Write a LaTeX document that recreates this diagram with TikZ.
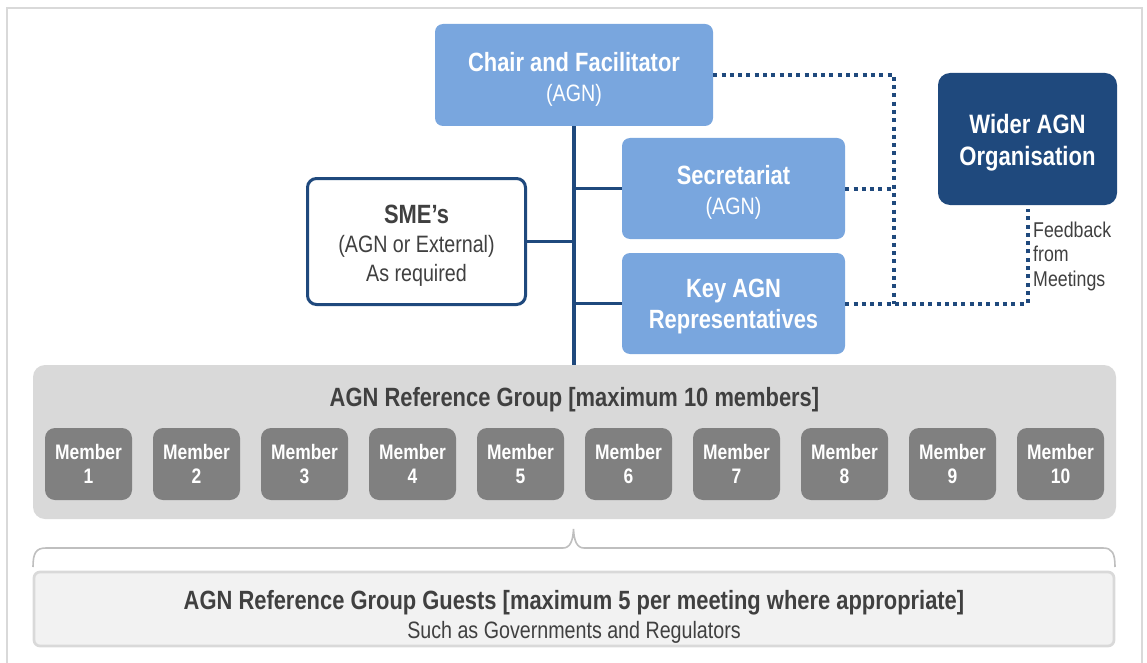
\documentclass[tikz,border=0pt]{standalone}
\usepackage{fontspec}
\setmainfont[FakeStretch=0.83]{Liberation Sans}
\definecolor{lightblue}{RGB}{121,166,222}
\definecolor{darkblue}{RGB}{31,73,125}
\definecolor{groupgray}{RGB}{217,217,217}
\definecolor{membergray}{RGB}{128,128,128}
\definecolor{guestfill}{RGB}{242,242,242}
\definecolor{textdark}{RGB}{64,64,64}
\definecolor{bracegray}{RGB}{191,191,191}
\begin{document}
\begin{tikzpicture}[x=1pt,y=-1pt,
  bluebox/.style={fill=lightblue, draw=none, rounded corners=8pt, inner sep=0pt},
  bluetext/.style={text=white, align=center, inner sep=0pt, font=\fontsize{26.4}{30}\selectfont},
  widerbox/.style={fill=darkblue, draw=none, rounded corners=12pt, inner sep=0pt},
  smebox/.style={fill=white, draw=darkblue, line width=3pt, rounded corners=9pt, inner sep=0pt},
  smetext/.style={text=textdark, align=center, inner sep=0pt, font=\fontsize{23.7}{29}\selectfont},
  groupbox/.style={fill=groupgray, draw=none, rounded corners=12pt, inner sep=0pt},
  memberbox/.style={fill=membergray, draw=none, rounded corners=10pt, text=white, align=center, inner sep=0pt,
    minimum width=87pt, minimum height=72pt, font=\fontsize{21}{24}\selectfont\bfseries},
  guestbox/.style={fill=guestfill, draw=groupgray, line width=2.7pt, rounded corners=6pt, inner sep=0pt},
  titletext/.style={text=textdark, align=center, inner sep=0pt},
  trunk/.style={draw=darkblue, line width=3.5pt},
  dotline/.style={draw=darkblue, line width=4pt, dash pattern=on 4pt off 4.3pt},
  bracec/.style={draw=bracegray, line width=1.6pt},
  framec/.style={draw=groupgray, line width=2pt}
]
\useasboundingbox (0,0) rectangle (1147,663);
\draw[framec] (7,663) -- (7,8) -- (1142,8) -- (1142,663);

% boxes
\node[bluebox, minimum width=278pt, minimum height=102pt] (chair) at (574,75) {};
\node[bluetext] (chairlabel) at ([yshift=-4.5pt]chair.center)
  {{\bfseries Chair and Facilitator}\\{\fontsize{23.7}{30}\selectfont (AGN)}};
\node[bluebox, minimum width=223pt, minimum height=101pt] (sec) at (733.5,188.5) {};
\node[bluetext] (seclabel) at ([yshift=-3.5pt]sec.center)
  {{\bfseries Secretariat}\\{\fontsize{23.7}{30}\selectfont (AGN)}};
\node[bluebox, minimum width=223pt, minimum height=101pt] (key) at (733.5,303.5) {};
\node[bluetext, font=\fontsize{26.4}{31}\selectfont\bfseries] (keylabel) at ([yshift=-3pt]key.center)
  {Key AGN\\Representatives};
\node[widerbox, minimum width=179pt, minimum height=132pt] (wider) at (1027.5,139) {};
\node[bluetext, font=\fontsize{26.6}{32}\selectfont\bfseries] (widerlabel) at ([yshift=-3.5pt]wider.center)
  {Wider AGN\\Organisation};
\node[smebox, minimum width=218pt, minimum height=126pt] (sme) at (416.5,241.5) {};
\node[smetext] (smelabel) at ([yshift=-4.5pt]sme.center)
  {{\fontsize{26.4}{29}\selectfont\bfseries SME’s}\\(AGN or External)\\As required};

\node[groupbox, minimum width=1083pt, minimum height=154pt] (group) at (574.5,442) {};
\node[titletext, font=\fontsize{26.4}{30}\selectfont\bfseries] (grouptitle) at (574.5,400)
  {AGN Reference Group [maximum 10 members]};
\foreach \i in {1,...,10}
  \node[memberbox] (m\i) at ({88.5+108*(\i-1)},464) {Member\\\i};

\node[guestbox, minimum width=1080pt, minimum height=74pt] (guests) at (574,609) {};
\node[titletext, font=\fontsize{23.7}{29}\selectfont] (gueststext) at (574,617)
  {{\fontsize{26.4}{29}\selectfont\bfseries AGN Reference Group Guests [maximum 5 per meeting where appropriate]}\\Such as Governments and Regulators};

\node[titletext, anchor=north west, align=left, font=\fontsize{21.4}{24.5}\selectfont] (feedback) at (1033,221.5)
  {Feedback\\from\\Meetings};

% solid connectors
\draw[trunk] (chair.south) -- (chair.south |- group.north);
\draw[trunk] (sec.west) -- (sec.west -| chair.south);
\draw[trunk] (key.west) -- (key.west -| chair.south);
\draw[trunk] (sme.east) -- (sme.east -| chair.south);

% dotted connectors
\coordinate (jx) at (894,0);
\draw[dotline] (chair.east) -| (jx |- key.east);
\draw[dotline] (sec.east) -- (sec.east -| jx);
\draw[dotline, shorten >=4pt] (key.east) -| (wider.south);

% brace
\draw[bracec] (33,567) .. controls (33,553) and (36,548) .. (46,548) -- (563,548)
  .. controls (570,548) and (573,541) .. (573.5,529)
  .. controls (574,541) and (577,548) .. (584,548) -- (1103,548)
  .. controls (1112,548) and (1115,553) .. (1115,567);
\end{tikzpicture}
\end{document}
